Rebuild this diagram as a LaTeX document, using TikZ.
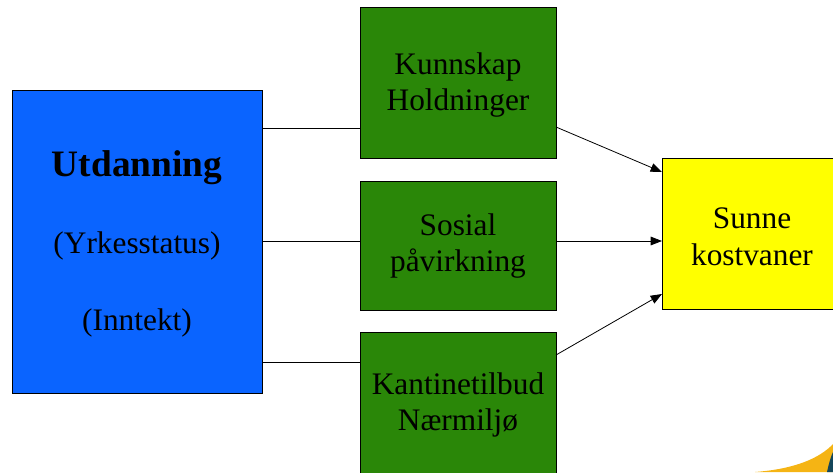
\documentclass[tikz,border=0pt]{standalone}
\usepackage{fontspec}
\setmainfont{Liberation Serif}
\usetikzlibrary{arrows.meta}
\definecolor{boxblue}{RGB}{10,100,255}
\definecolor{boxgreen}{RGB}{42,135,8}
\definecolor{boxyellow}{RGB}{255,255,0}
\definecolor{swoosh}{RGB}{245,180,20}
\definecolor{teal}{RGB}{20,70,90}
\tikzset{
  box/.style={draw=black, line width=0.8pt},
  lbl/.style={font=\fontsize{23.5}{27.5}\selectfont, align=center, inner sep=0pt},
  conn/.style={draw=black, line width=0.6pt},
  arr/.style={conn, -{Triangle[length=8.5pt,width=6.5pt]}}
}
\begin{document}
\begin{tikzpicture}[x=0.75pt,y=-0.75pt]
\useasboundingbox (0,0) rectangle (833,472);
\clip (0,0) rectangle (833,472);
% decorative swoosh
\fill[swoosh] (755,472) .. controls (795,469) and (820,458) .. (833,444) -- (833,472) -- cycle;
\fill[teal] (827,472) .. controls (829,463) and (831,456) .. (833,452) -- (833,472) -- cycle;
% boxes
\node[box, fill=boxblue, minimum width=250*0.75pt, minimum height=303*0.75pt, anchor=north west] (edu) at (12,90) {};
\node[box, fill=boxgreen, minimum width=196*0.75pt, minimum height=151*0.75pt, anchor=north west] (know) at (360,7) {};
\node[box, fill=boxgreen, minimum width=196*0.75pt, minimum height=129*0.75pt, anchor=north west] (soc) at (360,181) {};
\node[box, fill=boxgreen, minimum width=196*0.75pt, minimum height=150*0.75pt, anchor=north west] (kant) at (360,332) {};
\node[box, fill=boxyellow, minimum width=180*0.75pt, minimum height=151*0.75pt, anchor=north west] (sunne) at (662,158) {};
% texts
\node[lbl, font=\fontsize{28}{32}\selectfont\bfseries] (t1) at (137,168) {Utdanning};
\node[lbl] (t2) at (137,246) {(Yrkesstatus)};
\node[lbl] (t3) at (137,323) {(Inntekt)};
\node[lbl] (t4) at (458,85) {Kunnskap\\Holdninger};
\node[lbl] (t5) at (458,246) {Sosial\\påvirkning};
\node[lbl] (t6) at (458,405) {Kantinetilbud\\Nærmiljø};
\node[lbl] (t7) at (752,237) {Sunne\\kostvaner};
% connectors
\coordinate (e1) at (262,128);
\coordinate (e2) at (262,241);
\coordinate (e3) at (262,362);
\draw[conn] (e1) -- (e1 -| know.west);
\draw[conn] (e2) -- (e2 -| soc.west);
\draw[conn] (e3) -- (e3 -| kant.west);
\coordinate (k1) at (556,127);
\coordinate (s1) at (556,241);
\coordinate (n1) at (556,355);
\coordinate (y1) at (662,172);
\coordinate (y2) at (662,241);
\coordinate (y3) at (662,294);
\draw[arr] (k1) -- (y1);
\draw[arr] (s1) -- (y2);
\draw[arr] (n1) -- (y3);
\end{tikzpicture}
\end{document}
